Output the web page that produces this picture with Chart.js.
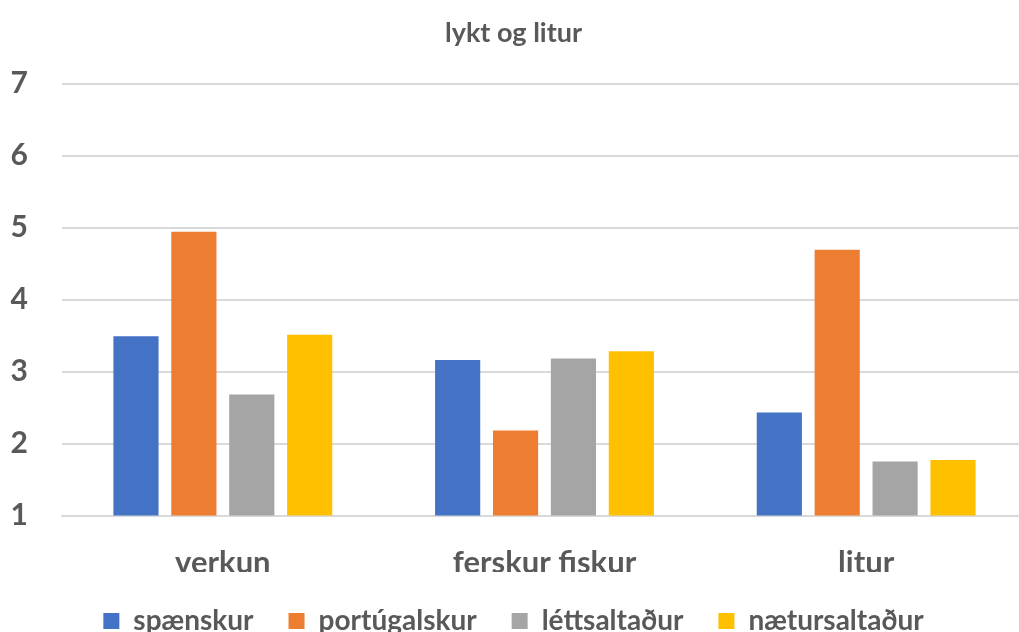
<!DOCTYPE html>
<html><head><meta charset="utf-8">
<script src="https://cdn.jsdelivr.net/npm/chart.js@4"></script>
<style>
html,body{margin:0;padding:0;background:#fff;overflow:hidden;}
#wrap{position:relative;width:1028px;height:645px;}
</style></head>
<body><div id="wrap"><canvas id="c"></canvas></div>
<script>
const categories = ["verkun", "ferskur fiskur", "litur"];
const seriesNames = ["spænskur", "portúgalskur", "léttsaltaður", "nætursaltaður"];
const spaenskur = [3.49, 3.16, 2.43];
const portugalskur = [4.94, 2.18, 4.69];
const lettsaltadur = [2.68, 3.18, 1.75];
const naetursaltadur = [3.51, 3.28, 1.77];
const colors = ["#4472C4", "#ED7D31", "#A5A5A5", "#FFC000"];
const yTicks = [1, 2, 3, 4, 5, 6, 7];

const FONT = "Lato, 'Open Sans', sans-serif";
const GRAY = "#595959";
const values = [spaenskur, portugalskur, lettsaltadur, naetursaltadur];

new Chart(document.getElementById('c'), {
  type: 'bar',
  data: {
    labels: categories,
    datasets: seriesNames.map((n, i) => ({
      label: n, data: values[i], backgroundColor: colors[i], borderWidth: 0,
      categoryPercentage: 0.72, barPercentage: 0.78
    }))
  },
  options: {
    responsive: true, maintainAspectRatio: false, animation: false,
    layout: { padding: { left: 0, right: 1, top: 0, bottom: 0 } },
    plugins: {
      title: { display: true, text: "lykt og litur", color: GRAY,
        font: { family: FONT, size: 27, weight: 'bold' }, padding: { top: 17, bottom: 34.1 } },
      legend: { position: 'bottom',
        labels: { color: GRAY, boxWidth: 16, boxHeight: 16, padding: 35,
          font: { family: FONT, size: 28, weight: 'bold' } } },
      tooltip: { enabled: false }
    },
    scales: {
      x: {
        afterFit: s => { s.height = 56.5; },
        grid: { display: false, drawTicks: false },
        border: { display: true, color: '#d9d9d9', width: 2 },
        ticks: { color: GRAY, padding: 29, font: { family: FONT, size: 31, weight: 'bold' } }
      },
      y: {
        min: yTicks[0], max: yTicks[yTicks.length - 1],
        afterFit: s => { s.width = 62; },
        afterBuildTicks: s => { s.ticks = yTicks.map(v => ({ value: v })); },
        grid: { color: '#d9d9d9', lineWidth: 2, drawTicks: false },
        border: { display: false },
        ticks: { color: GRAY, padding: 34, stepSize: 1,
          font: { family: FONT, size: 30, weight: 'bold' } }
      }
    }
  }
});
</script></body></html>
